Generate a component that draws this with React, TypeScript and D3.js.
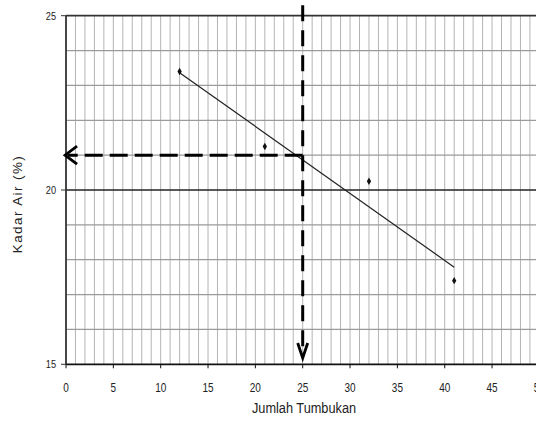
import React from "react";
import * as d3 from "d3";

const xValues = [12, 21, 32, 41];
const yValues = [23.4, 21.25, 20.25, 17.4];
const xTicks = [0, 5, 10, 15, 20, 25, 30, 35, 40, 45, 50];
const yTicks = [15, 20, 25];
const readX = 25;
const readY = 21;
const xTitle = "Jumlah Tumbukan";
const yTitle = "Kadar Air (%)";

const W = 536;
const H = 421;

export default function App() {
  const x = d3.scaleLinear().domain([0, 50]).range([66, 539.4]);
  const y = d3.scaleLinear().domain([15, 25]).range([364.3, 15.7]);

  // least-squares trend line
  const mx = d3.mean(xValues) as number;
  const my = d3.mean(yValues) as number;
  let sxy = 0, sxx = 0;
  xValues.forEach((v, i) => {
    sxy += (v - mx) * (yValues[i] - my);
    sxx += (v - mx) * (v - mx);
  });
  const slope = sxy / sxx;
  const icpt = my - slope * mx;
  const x0 = d3.min(xValues) as number;
  const x1 = d3.max(xValues) as number;
  const trend = d3.line<number>().x((d) => x(d)).y((d) => y(icpt + slope * d))([x0, x1]) as string;

  const vGrid = d3.range(1, 51);
  const hGrid = d3.range(16, 25).filter((v) => v !== 20);

  const sans = "'Liberation Sans', Arial, sans-serif";

  const ax = x(readX);
  const ay = y(readY);
  const tipX = x(-0.1);
  const tipY = y(15.18);
  const topY = y(25.3);

  return (
    <svg width={W} height={H} style={{ position: "absolute", left: 0, top: 0, background: "#fff" }}>
      <rect x={0} y={0} width={W} height={H} fill="#fff" />
      {vGrid.map((v) => (
        <line key={"v" + v} x1={x(v)} x2={x(v)} y1={y(25)} y2={y(15)} stroke="#b4b4b4" strokeWidth={1} />
      ))}
      {hGrid.map((v) => (
        <line key={"h" + v} x1={x(0)} x2={x(50)} y1={y(v)} y2={y(v)} stroke="#9a9a9a" strokeWidth={1.2} />
      ))}
      <line x1={x(0)} x2={x(50)} y1={y(20)} y2={y(20)} stroke="#222" strokeWidth={1.3} />
      <line x1={x(0)} x2={x(50)} y1={y(25)} y2={y(25)} stroke="#333" strokeWidth={1.8} />
      <line x1={x(0)} x2={x(50)} y1={y(15)} y2={y(15)} stroke="#111" strokeWidth={1.8} />
      <line x1={x(0)} x2={x(0)} y1={y(25)} y2={y(15)} stroke="#333" strokeWidth={1.8} />

      {yTicks.map((t) => (
        <g key={"yt" + t}>
          <line x1={x(0) - 5} x2={x(0)} y1={y(t)} y2={y(t)} stroke="#333" strokeWidth={1} />
          <text
            transform={`translate(${x(0) - 10},${y(t)}) scale(0.8,1)`}
            dy="0.35em"
            textAnchor="end"
            fontFamily={sans}
            fontSize={11.5}
            fill="#222"
          >
            {t}
          </text>
        </g>
      ))}
      {xTicks.map((t) => (
        <g key={"xt" + t}>
          <line x1={x(t)} x2={x(t)} y1={y(15)} y2={y(15) + 4} stroke="#111" strokeWidth={1} />
          <text
            transform={`translate(${x(t)},${y(15) + 28}) scale(0.8,1)`}
            textAnchor="middle"
            fontFamily={sans}
            fontSize={12.5}
            fill="#222"
          >
            {t}
          </text>
        </g>
      ))}

      <path d={trend} stroke="#222" strokeWidth={1.2} fill="none" />
      {xValues.map((v, i) => (
        <path
          key={"p" + i}
          d={d3.symbol(d3.symbolDiamond, 16)() as string}
          transform={`translate(${x(v)},${y(yValues[i])})`}
          fill="#111"
        />
      ))}

      {/* reading lines */}
      <line x1={ax} x2={tipX + 3} y1={ay} y2={ay} stroke="#000" strokeWidth={3} strokeDasharray="18 7" />
      <polyline points={`${tipX + 12},${ay - 9} ${tipX},${ay} ${tipX + 12},${ay + 9}`} fill="none" stroke="#000" strokeWidth={2.8} />
      <line x1={ax} x2={ax} y1={topY} y2={tipY - 3} stroke="#000" strokeWidth={3} strokeDasharray="16 9" />
      <polyline points={`${ax - 5},${tipY - 15} ${ax},${tipY} ${ax + 5},${tipY - 15}`} fill="none" stroke="#000" strokeWidth={2.8} />

      <text
        transform={`translate(304,413) scale(0.88,1)`}
        textAnchor="middle"
        fontFamily={sans}
        fontSize={14.5}
        fill="#222"
      >
        {xTitle}
      </text>
      <text
        transform={`translate(22,${204}) rotate(-90)`}
        textAnchor="middle"
        fontFamily={sans}
        fontSize={13.5}
        letterSpacing={1.4}
        fill="#222"
      >
        {yTitle}
      </text>
    </svg>
  );
}
